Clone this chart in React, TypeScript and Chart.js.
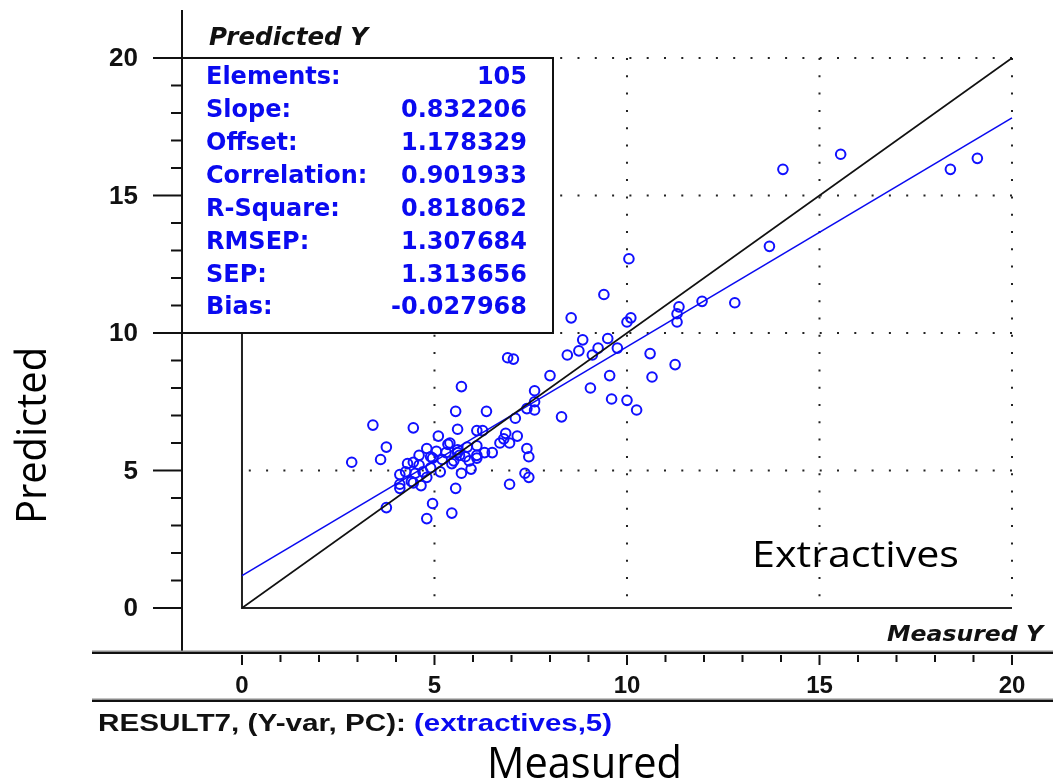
import React, { useEffect, useRef } from "react";
import { Chart, registerables } from "chart.js";

Chart.register(...registerables);

// Measured (x) and predicted (y) values
const measured = [
  19.1, 18.4, 15.55, 14.05, 13.7, 12.8, 11.95, 11.35, 11.3, 11.3,
  10.05, 9.4, 10.0, 10.1, 8.55, 8.85, 9.5, 9.25, 9.1, 9.75,
  8.75, 8.45, 10.6, 11.25, 9.55, 10.65, 9.05, 9.6, 10.0, 10.25,
  6.9, 7.05, 8.0, 5.7, 7.6, 7.6, 7.4, 7.6, 5.55, 6.35,
  8.3, 7.1, 5.6, 6.1, 6.25, 6.85, 5.1, 6.8, 7.15, 6.7,
  6.95, 5.4, 6.1, 5.85, 7.4, 6.5, 7.45, 5.6, 5.65, 6.1,
  4.95, 5.2, 5.9, 5.45, 5.95, 5.15, 5.7, 7.35, 7.45, 6.95,
  5.55, 4.95, 5.45, 3.4, 4.45, 3.75, 3.6, 2.85, 4.8, 5.35,
  4.6, 4.9, 4.3, 4.45, 4.6, 4.1, 4.5, 4.8, 4.1, 4.45,
  4.65, 4.1, 3.75, 4.8, 4.7, 4.9, 4.25, 5.6, 6.3, 5.5,
  5.8, 6.1, 4.4, 5.3, 5.05,
];
const predicted = [
  16.35, 15.95, 16.5, 15.95, 13.15, 11.1, 11.15, 10.95, 10.7, 10.4,
  12.7, 11.4, 10.4, 10.55, 10.55, 9.75, 9.8, 9.45, 9.2, 9.45,
  9.35, 9.2, 9.25, 8.85, 8.45, 8.4, 8.0, 7.6, 7.55, 7.2,
  9.1, 9.05, 8.45, 8.05, 7.9, 7.5, 7.25, 7.2, 7.15, 7.15,
  6.95, 6.9, 6.5, 6.45, 6.45, 6.35, 6.25, 6.15, 6.25, 6.0,
  6.0, 6.0, 5.9, 5.85, 5.8, 5.65, 5.5, 5.75, 5.55, 5.45,
  5.45, 5.4, 5.35, 5.25, 5.05, 4.95, 4.9, 4.9, 4.75, 4.5,
  4.35, 3.8, 3.45, 6.65, 6.55, 5.85, 5.4, 5.3, 5.8, 5.95,
  5.55, 5.5, 5.25, 5.3, 5.2, 4.85, 4.9, 4.75, 4.5, 4.55,
  4.45, 4.35, 3.65, 3.25, 4.95, 5.1, 4.95, 5.65, 5.65, 5.35,
  5.5, 5.55, 4.6, 5.65, 5.7,
];

const xTickValues = [0, 5, 10, 15, 20];
const yTickValues = [0, 5, 10, 15, 20];
const xTickLabels = ["0", "5", "10", "15", "20"];
const yTickLabels = ["0", "5", "10", "15", "20"];

const statLabels = ["Elements:", "Slope:", "Offset:", "Correlation:", "R-Square:", "RMSEP:", "SEP:", "Bias:"];
const statValues = ["105", "0.832206", "1.178329", "0.901933", "0.818062", "1.307684", "1.313656", "-0.027968"];

const slope = 0.832206;
const offset = 1.178329;
const lineRange = [0, 20];

const BLUE = "#0a0af0";
const INK = "#111111";

function fitText(ctx: CanvasRenderingContext2D, text: string, x: number, y: number, width: number) {
  const w = ctx.measureText(text).width;
  const s = w > 0 ? width / w : 1;
  ctx.save();
  ctx.translate(x, y);
  ctx.scale(s, 1);
  ctx.textAlign = "left";
  ctx.fillText(text, 0, 0);
  ctx.restore();
}

const overlay = {
  id: "overlay",
  beforeDatasetsDraw(chart: any) {
    const ctx: CanvasRenderingContext2D = chart.ctx;
    const xs = chart.scales.x;
    const ys = chart.scales.y;
    const X = (v: number) => xs.getPixelForValue(v);
    const Y = (v: number) => ys.getPixelForValue(v);
    ctx.save();
    // dotted grid
    ctx.strokeStyle = "#222";
    ctx.lineWidth = 2;
    ctx.setLineDash([2, 15.3]);
    for (const v of xTickValues.slice(1)) {
      ctx.beginPath();
      ctx.moveTo(X(v), Y(20));
      ctx.lineTo(X(v), Y(0));
      ctx.stroke();
    }
    for (const v of yTickValues.slice(1)) {
      ctx.beginPath();
      ctx.moveTo(X(20), Y(v));
      ctx.lineTo(X(0), Y(v));
      ctx.stroke();
    }
    ctx.setLineDash([]);
    // inner axes
    ctx.strokeStyle = "#222";
    ctx.lineWidth = 2;
    ctx.beginPath();
    ctx.moveTo(X(0), Y(10));
    ctx.lineTo(X(0), Y(0));
    ctx.lineTo(X(20), Y(0));
    ctx.stroke();
    // stats box
    const bl = chart.chartArea.left;
    const br = 553;
    const bt = Y(20);
    const bb = Y(10);
    ctx.fillStyle = "#fff";
    ctx.fillRect(bl, bt, br - bl, bb - bt);
    ctx.strokeStyle = "#111";
    ctx.lineWidth = 2;
    ctx.strokeRect(bl, bt, br - bl, bb - bt);
    ctx.fillStyle = BLUE;
    ctx.font = "bold 25px 'DejaVu Sans'";
    ctx.textBaseline = "middle";
    const rowH = (bb - bt - 45) / (statLabels.length - 1);
    statLabels.forEach((lab, i) => {
      const yy = bt + 20 + i * rowH;
      ctx.save();
      ctx.translate(206, yy);
      ctx.scale(0.96, 1);
      ctx.textAlign = "left";
      ctx.fillText(lab, 0, 0);
      ctx.restore();
      ctx.save();
      ctx.translate(527, yy);
      ctx.scale(0.96, 1);
      ctx.textAlign = "right";
      ctx.fillText(statValues[i], 0, 0);
      ctx.restore();
    });
    ctx.restore();
  },
  afterDraw(chart: any) {
    const ctx: CanvasRenderingContext2D = chart.ctx;
    const xs = chart.scales.x;
    const ys = chart.scales.y;
    const X = (v: number) => xs.getPixelForValue(v);
    const Y = (v: number) => ys.getPixelForValue(v);
    const area = chart.chartArea;
    ctx.save();
    // main vertical axis
    ctx.strokeStyle = "#111";
    ctx.lineWidth = 2;
    ctx.beginPath();
    ctx.moveTo(area.left, area.top);
    ctx.lineTo(area.left, area.bottom);
    ctx.stroke();
    // y ticks
    for (let v = 0; v <= 20; v++) {
      const major = v % 5 === 0;
      ctx.beginPath();
      ctx.moveTo(area.left - (major ? 29 : 11), Y(v));
      ctx.lineTo(area.left, Y(v));
      ctx.stroke();
    }
    // bottom double lines
    const drawBar = (y: number) => {
      ctx.fillStyle = "#8a8a8a";
      ctx.fillRect(92, y - 1.5, 1053 - 92, 1.5);
      ctx.fillStyle = "#111";
      ctx.fillRect(92, y, 1053 - 92, 2);
    };
    drawBar(area.bottom);
    drawBar(700);
    // x ticks
    ctx.strokeStyle = "#111";
    ctx.lineWidth = 2;
    for (let v = 0; v <= 20; v++) {
      const major = v % 5 === 0;
      ctx.beginPath();
      ctx.moveTo(X(v), area.bottom + 3);
      ctx.lineTo(X(v), area.bottom + (major ? 13 : 10));
      ctx.stroke();
    }
    // tick labels
    ctx.fillStyle = INK;
    ctx.font = "bold 26px 'Liberation Sans'";
    ctx.textBaseline = "middle";
    ctx.textAlign = "right";
    yTickValues.forEach((v, i) => ctx.fillText(yTickLabels[i], 138, Y(v) + 1));
    ctx.font = "bold 24px 'Liberation Sans'";
    ctx.textAlign = "center";
    xTickValues.forEach((v, i) => ctx.fillText(xTickLabels[i], X(v), 686));
    // axis titles of the original plot
    ctx.font = "italic bold 24px 'DejaVu Sans'";
    ctx.textBaseline = "alphabetic";
    ctx.fillStyle = INK;
    fitText(ctx, "Predicted Y", 209, 45, 159);
    ctx.font = "italic bold 21px 'DejaVu Sans'";
    fitText(ctx, "Measured Y", 887, 641, 156);
    // result line
    ctx.font = "bold 24px 'Liberation Sans'";
    ctx.fillStyle = INK;
    fitText(ctx, "RESULT7, (Y-var, PC):", 98, 731, 308);
    ctx.fillStyle = BLUE;
    fitText(ctx, "(extractives,5)", 414, 731, 198);
    // large annotation labels
    ctx.fillStyle = "#000";
    ctx.font = "36px 'Open Sans'";
    fitText(ctx, "Extractives", 752, 567, 207);
    ctx.font = "43px 'Open Sans'";
    fitText(ctx, "Measured", 487, 778, 195);
    ctx.save();
    ctx.translate(46, 524);
    ctx.rotate(-Math.PI / 2);
    ctx.font = "42px 'Open Sans'";
    fitText(ctx, "Predicted", 0, 0, 177);
    ctx.restore();
    ctx.restore();
  },
};

export default function App() {
  const ref = useRef<HTMLCanvasElement | null>(null);
  useEffect(() => {
    if (!ref.current) return;
    const points = measured.map((x, i) => ({ x, y: predicted[i] }));
    const fit = lineRange.map((x) => ({ x, y: slope * x + offset }));
    const ideal = lineRange.map((x) => ({ x, y: x }));
    const chart = new Chart(ref.current, {
      type: "scatter",
      data: {
        datasets: [
          {
            label: "Target",
            data: ideal,
            showLine: true,
            borderColor: "#111",
            borderWidth: 1.6,
            pointRadius: 0,
          },
          {
            label: "Regression",
            data: fit,
            showLine: true,
            borderColor: BLUE,
            borderWidth: 1.6,
            pointRadius: 0,
          },
          {
            label: "Samples",
            data: points,
            showLine: false,
            pointStyle: "circle",
            pointRadius: 4.8,
            pointBorderWidth: 2,
            borderColor: "#1010ff",
            backgroundColor: "rgba(0,0,0,0)",
          },
        ],
      },
      options: {
        animation: false,
        responsive: false,
        devicePixelRatio: 1,
        events: [],
        layout: { autoPadding: false, padding: { left: 182, right: 0, top: 10, bottom: 129 } },
        plugins: { legend: { display: false }, tooltip: { enabled: false }, title: { display: false } },
        scales: {
          x: { type: "linear", min: -1.558, max: 21.065, display: false },
          y: { type: "linear", min: -1.6, max: 21.745, display: false },
        },
      },
      plugins: [overlay],
    });
    return () => chart.destroy();
  }, []);
  return (
    <div style={{ position: "absolute", left: 0, top: 0, width: 1053, height: 781, background: "#fff" }}>
      <canvas ref={ref} width={1053} height={781} />
    </div>
  );
}
